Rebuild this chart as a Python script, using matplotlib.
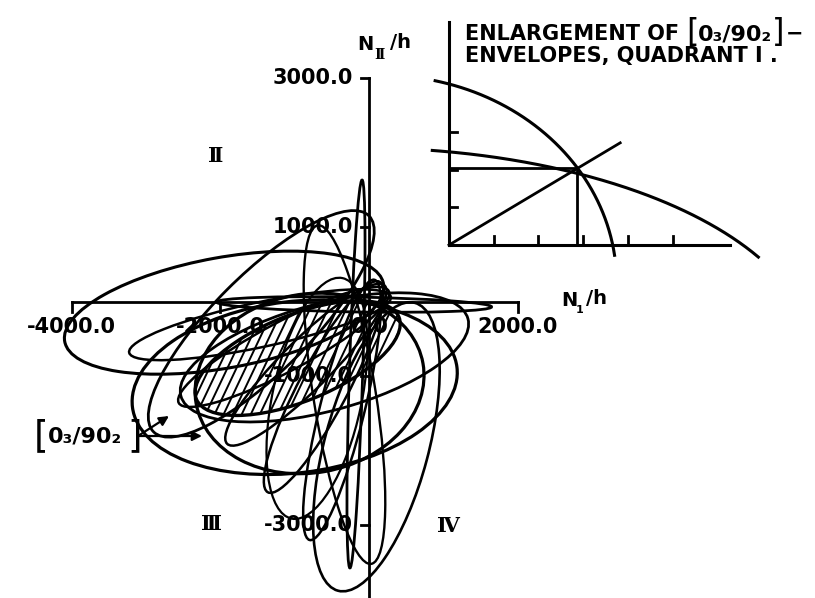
import numpy as np
import matplotlib.pyplot as plt
from matplotlib.patches import Ellipse

# ---- figure geometry (pixels) ----
W_PX, H_PX = 815, 598
X0_PX, Y0_PX = 369.0, 301.5      # position of N1 = N2 = 0
SX, SY = 0.0743, 0.0745          # pixels per unit of N/h

# ---- main chart: laminate failure envelopes (N1/h, NII/h) ----
# centre x, centre y, semi-axis a, semi-axis b, tilt (deg), line width
env_cx = [-1950, -1000, -800, -1450, -175, 100, -600, -200, -330,
          -1467, -1148, -849, -610, -363, -700]
env_cy = [-150, -1150, -1100, -300, -973, -1950, -750, -40, -1250,
          -312, -610, -849, -1148, -1455, -1300]
env_a = [2180, 2200, 1550, 2050, 2605, 2000, 2000, 1850, 2300,
         1800, 1600, 1500, 1600, 1800, 1650]
env_b = [742, 1150, 1200, 650, 90, 700, 720, 100, 420,
         300, 330, 330, 330, 300, 600]
env_ang = [10.2, 7, 10, 45, 88.2, 75, 15, -1, 99,
           12, 28, 45, 62, 76, 78]
env_lw = [2.2, 2.3, 2.3, 2.0, 2.0, 1.9, 2.0, 2.0, 1.7,
          1.8, 1.8, 1.8, 1.8, 1.8, 1.6]

# hatched first-ply region
hatch_cx, hatch_cy, hatch_a, hatch_b, hatch_ang = -960, -760, 1470, 580, 22

x_ticks = [-4000.0, -2000.0, 0.0, 2000.0]
y_ticks = [3000.0, 1000.0, -1000.0, -3000.0]
y_axis_bottom = -3980.0

# ---- inset: enlargement of the [0_3/90_2] envelopes, quadrant I ----
# two ellipse arcs: centre x, centre y, semi-axes, start/end parameter (deg)
arc_cx = [-1.5, -2.0]
arc_cy = [-1.0, -3.0]
arc_a = [5.25, 10.17]
arc_b = [5.5, 5.58]
arc_t1 = [7.6, 28.7]
arc_t2 = [76.9, 80.8]
common_pt = (2.86, 2.04)
ray_end = (3.83, 2.71)
inset_xticks = [1, 2, 3, 4, 5]
inset_yticks = [1, 2, 3]
inset_xmax, inset_ymax = 6.29, 5.92
IX0_PX, IY0_PX = 449.0, 245.0
ISX, ISY = 44.7, 37.7


def to_data(px, py):
    return (px - X0_PX) / SX, (Y0_PX - py) / SY


fig = plt.figure(figsize=(W_PX / 100, H_PX / 100), dpi=100)
fig.patch.set_facecolor('white')
ax = fig.add_axes([0, 0, 1, 1])
ax.set_xlim(-X0_PX / SX, (W_PX - X0_PX) / SX)
ax.set_ylim(-(H_PX - Y0_PX) / SY, Y0_PX / SY)
ax.axis('off')

# hatched region, lines clipped by the ellipse
hatch_patch = Ellipse((hatch_cx, hatch_cy), 2 * hatch_a, 2 * hatch_b,
                      angle=hatch_ang, fill=False, lw=2.4, color='black')
ax.add_patch(hatch_patch)
slope = 2.1
step = 122
for x0 in np.arange(-4500, 1500, step):
    ys = np.array([-2500, 1000])
    xs = x0 + (ys - (-2500)) / slope
    ln, = ax.plot(xs, ys, color='black', lw=1.4)
    ln.set_clip_path(hatch_patch)

for cx, cy, a, b, ang, lw in zip(env_cx, env_cy, env_a, env_b, env_ang, env_lw):
    ax.add_patch(Ellipse((cx, cy), 2 * a, 2 * b, angle=ang, fill=False,
                         lw=lw, color='black'))

# axes lines and ticks
ax.plot([0, 0], [y_axis_bottom, max(y_ticks)], color='black', lw=2.0)
ax.plot([min(x_ticks), max(x_ticks)], [0, 0], color='black', lw=2.0)
for v in y_ticks:
    ax.plot([-8 / SX, 0], [v, v], color='black', lw=2.0)
    ax.text(-16 / SX, v, f"{v:.1f}", ha='right', va='center',
            fontsize=15, fontweight='bold')
for v in x_ticks:
    ax.plot([v, v], [0, -10 / SY], color='black', lw=2.0)
    ax.text(v, -25.5 / SY, f"{v:.1f}", ha='center', va='center',
            fontsize=15, fontweight='bold')

# axis titles
ax.text(*to_data(357, 44), "N", ha='left', va='center', fontsize=14, fontweight='bold')
ax.text(*to_data(374, 55), "Ⅱ", ha='left', va='center', fontsize=10,
        fontweight='bold', family='DejaVu Serif')
ax.text(*to_data(390, 43), "/h", ha='left', va='center', fontsize=14, fontweight='bold')
ax.text(*to_data(561, 301), "N", ha='left', va='center', fontsize=14, fontweight='bold')
ax.text(*to_data(576, 310), "1", ha='left', va='center', fontsize=8, fontweight='bold')
ax.text(*to_data(586, 299), "/h", ha='left', va='center', fontsize=14, fontweight='bold')

# quadrant numerals
ax.text(*to_data(216, 156), "Ⅱ", ha='center', va='center', fontsize=15,
        fontweight='bold', family='DejaVu Serif')
ax.text(*to_data(212, 524), "Ⅲ", ha='center', va='center', fontsize=15,
        fontweight='bold', family='DejaVu Serif')
ax.text(*to_data(448, 526), "Ⅳ", ha='center', va='center', fontsize=15,
        fontweight='bold', family='DejaVu Serif')

# laminate label with arrows
ax.text(*to_data(34, 436), "[", ha='left', va='center', fontsize=27)
ax.text(*to_data(48, 437), "0₃/90₂", ha='left', va='center', fontsize=16, fontweight='bold')
ax.text(*to_data(127, 436), "]", ha='left', va='center', fontsize=27)
start = to_data(138, 436)
for tip in [to_data(169, 416), to_data(202, 436)]:
    ax.annotate("", xy=tip, xytext=start,
                arrowprops=dict(arrowstyle='-|>', color='black', lw=1.6,
                                mutation_scale=14, shrinkA=0, shrinkB=0))

# ---- inset ----
iax = fig.add_axes([420 / W_PX, 1 - 270 / H_PX, 380 / W_PX, 270 / H_PX])
iax.set_xlim((420 - IX0_PX) / ISX, (800 - IX0_PX) / ISX)
iax.set_ylim((IY0_PX - 270) / ISY, IY0_PX / ISY)
iax.axis('off')
iax.patch.set_alpha(0)

iax.plot([0, inset_xmax], [0, 0], color='black', lw=2.2)
iax.plot([0, 0], [0, inset_ymax], color='black', lw=2.2)
for t in inset_xticks:
    iax.plot([t, t], [0, 9 / ISY], color='black', lw=2.0)
for t in inset_yticks:
    iax.plot([0, 8 / ISX], [t, t], color='black', lw=2.0)

for cx, cy, a, b, t1, t2 in zip(arc_cx, arc_cy, arc_a, arc_b, arc_t1, arc_t2):
    t = np.radians(np.linspace(t1, t2, 200))
    iax.plot(cx + a * np.cos(t), cy + b * np.sin(t), color='black', lw=2.2)

iax.plot([0, ray_end[0]], [0, ray_end[1]], color='black', lw=2.0)
iax.plot([0, common_pt[0]], [common_pt[1], common_pt[1]], color='black', lw=2.0)
iax.plot([common_pt[0], common_pt[0]], [0, common_pt[1]], color='black', lw=2.0)

title_font = dict(fontsize=15, fontweight='bold')
fig.text(465 / W_PX, 1 - 34 / H_PX, "ENLARGEMENT OF", ha='left', va='center', **title_font)
fig.text(686 / W_PX, 1 - 33 / H_PX, "[", ha='left', va='center', fontsize=23)
fig.text(698 / W_PX, 1 - 35 / H_PX, "0₃/90₂", ha='left', va='center',
         fontsize=16, fontweight='bold')
fig.text(772 / W_PX, 1 - 33 / H_PX, "]", ha='left', va='center', fontsize=23)
fig.text(786 / W_PX, 1 - 34 / H_PX, "−", ha='left', va='center', **title_font)
fig.text(465 / W_PX, 1 - 56 / H_PX, "ENVELOPES, QUADRANT I .", ha='left', va='center',
         **title_font)

fig.savefig('out.png', dpi=100, facecolor='white')
